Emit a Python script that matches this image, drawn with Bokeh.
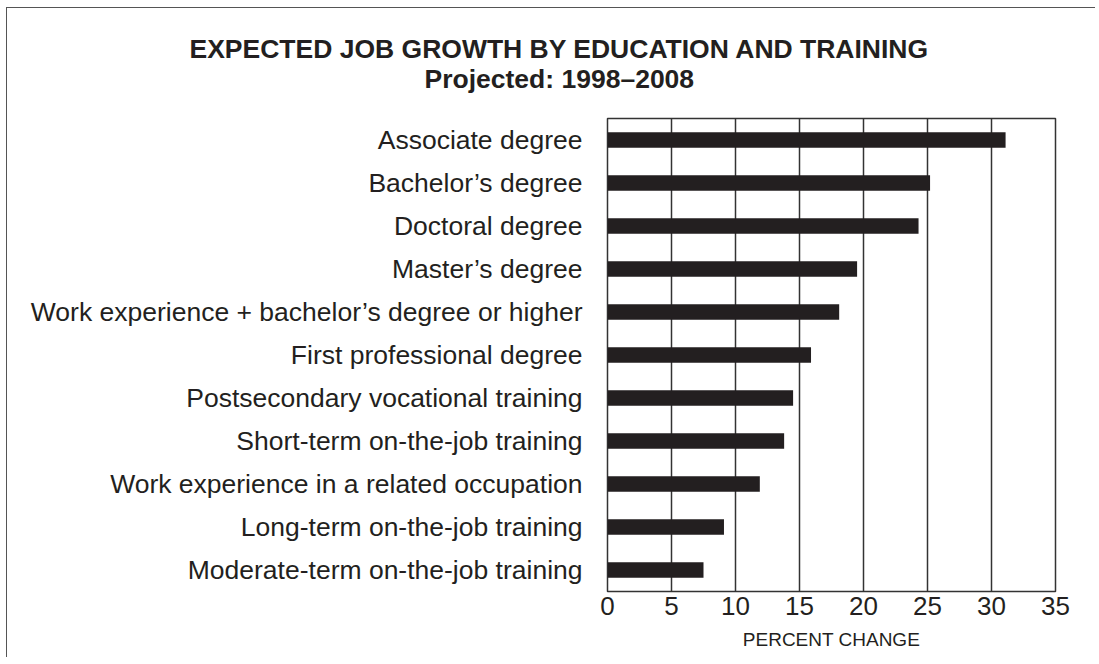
from bokeh.plotting import figure
from bokeh.models import FactorRange, Range1d, FixedTicker, Title, ColumnDataSource
from bokeh.embed import file_html
from bokeh.resources import INLINE

categories = [
    "Associate degree",
    "Bachelor\u2019s degree",
    "Doctoral degree",
    "Master\u2019s degree",
    "Work experience + bachelor\u2019s degree or higher",
    "First professional degree",
    "Postsecondary vocational training",
    "Short-term on-the-job training",
    "Work experience in a related occupation",
    "Long-term on-the-job training",
    "Moderate-term on-the-job training",
]
percent_change = [31.1, 25.2, 24.3, 19.5, 18.1, 15.9, 14.5, 13.8, 11.9, 9.1, 7.5]
x_ticks = [0, 5, 10, 15, 20, 25, 30, 35]

title_text = "EXPECTED JOB GROWTH BY EDUCATION AND TRAINING"
subtitle_text = "Projected: 1998\u20132008"
x_label = "PERCENT CHANGE"

INK = "#231f20"
FONT = "Liberation Sans"

src = ColumnDataSource(dict(cat=categories, val=percent_change))

p = figure(
    y_range=FactorRange(factors=list(reversed(categories)), range_padding=0),
    x_range=Range1d(0, 35),
    frame_width=448, frame_height=473,
    min_border_left=600, min_border_top=110, min_border_right=40, min_border_bottom=66,
    output_backend="svg", toolbar_location=None,
)
p.styles = {"border-left": "1px solid #555", "border-top": "1px solid #555",
            "margin-left": "6px", "margin-top": "7px"}

p.hbar(y="cat", right="val", left=0, height=0.365, source=src,
       fill_color=INK, line_color=None)

p.outline_line_color = "#333333"
p.outline_line_width = 1.5
p.ygrid.grid_line_color = None
p.xgrid.grid_line_color = "#333333"
p.xgrid.grid_line_width = 1.5
p.xgrid.ticker = FixedTicker(ticks=x_ticks)

xa = p.xaxis[0]
xa.ticker = FixedTicker(ticks=x_ticks)
xa.axis_line_color = None
xa.major_tick_line_color = None
xa.minor_tick_line_color = None
xa.major_label_text_font = FONT
xa.major_label_text_font_size = "26px"
xa.major_label_text_color = INK
xa.major_label_standoff = -1
xa.axis_label = x_label
xa.axis_label_text_font = FONT
xa.axis_label_text_font_size = "19px"
xa.axis_label_text_font_style = "normal"
xa.axis_label_text_color = INK
xa.axis_label_standoff = 11

ya = p.yaxis[0]
ya.axis_line_color = None
ya.major_tick_line_color = None
ya.minor_tick_line_color = None
ya.major_label_text_font = FONT
ya.major_label_text_font_size = "26.5px"
ya.major_label_text_color = INK
ya.major_label_standoff = 19

spacer = Title(text=" ", standoff=23, text_font_size="1px")
sub = Title(text=subtitle_text, align="left", offset=-183, standoff=-2,
            text_font=FONT, text_font_size="26.5px", text_font_style="bold", text_color=INK)
ttl = Title(text=title_text, align="left", offset=-418, standoff=-2,
            text_font=FONT, text_font_size="26.5px", text_font_style="bold", text_color=INK)
p.add_layout(spacer, "above")
p.add_layout(sub, "above")
p.add_layout(ttl, "above")

open("out.html", "w").write(file_html(p, INLINE))
